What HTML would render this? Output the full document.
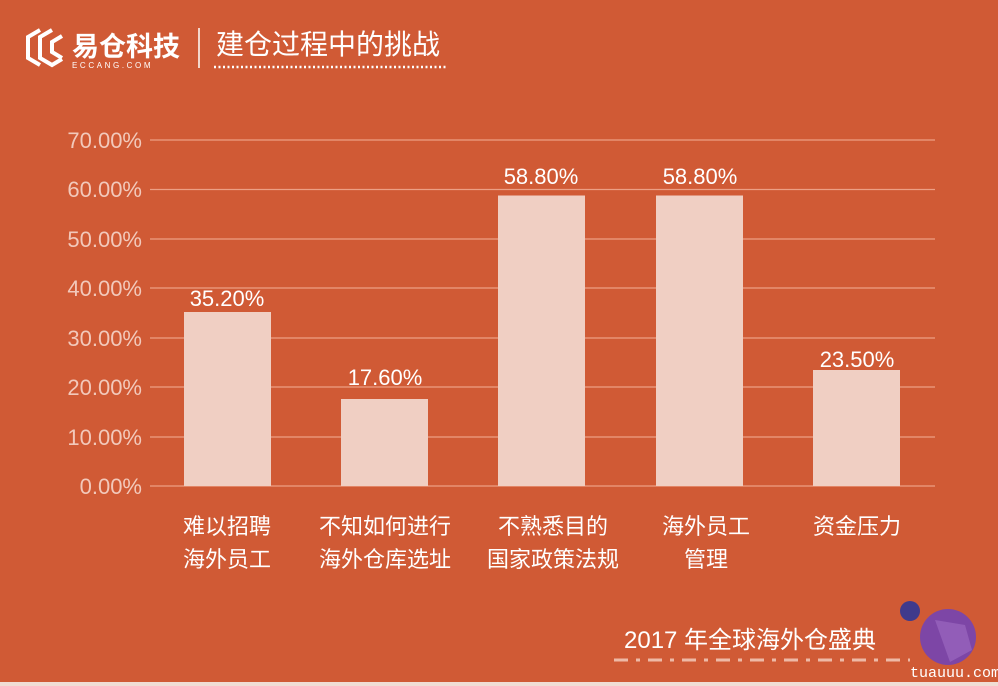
<!DOCTYPE html>
<html><head><meta charset="utf-8"><style>
body{margin:0;width:998px;height:686px;overflow:hidden;background:#D05A35;font-family:"Liberation Sans","Noto Sans CJK SC",sans-serif}
</style></head><body>
<svg width="998" height="686" xmlns="http://www.w3.org/2000/svg" style="position:absolute;left:0;top:0">
<rect width="998" height="686" fill="#D05A35"/>
<g fill="none" stroke="#fff" stroke-width="4">
<path d="M40 30 L28 37 L28 58 L40 65"/>
<path d="M52 30 L40 37 L40 58 L52 65 L62 59"/>
<path d="M62 36 L52 42 L52 52 L62 58"/>
</g>
<text x="72" y="56" fill="#fff" font-size="27" font-weight="bold">易仓科技</text>
<text x="72" y="68" fill="#fff" font-size="8" letter-spacing="2.6">ECCANG.COM</text>
<rect x="198" y="28" width="2" height="40" fill="#f3d6cb"/>
<text x="216" y="54" fill="#fff" font-size="28">建仓过程中的挑战</text>
<line x1="214" y1="67" x2="448" y2="67" stroke="#fff" stroke-width="2.5" stroke-dasharray="2 2.5"/>
<g stroke="#ec9f85" stroke-width="1.2">
<line x1="150" y1="140" x2="935" y2="140"/>
<line x1="150" y1="189.5" x2="935" y2="189.5"/>
<line x1="150" y1="239" x2="935" y2="239"/>
<line x1="150" y1="288" x2="935" y2="288"/>
<line x1="150" y1="338" x2="935" y2="338"/>
<line x1="150" y1="387" x2="935" y2="387"/>
<line x1="150" y1="437" x2="935" y2="437"/>
<line x1="150" y1="486" x2="935" y2="486"/>
</g>
<g fill="#f2c9bb" font-size="22" text-anchor="end">
<text x="142" y="148">70.00%</text>
<text x="142" y="197">60.00%</text>
<text x="142" y="247">50.00%</text>
<text x="142" y="296">40.00%</text>
<text x="142" y="346">30.00%</text>
<text x="142" y="395">20.00%</text>
<text x="142" y="445">10.00%</text>
<text x="142" y="494">0.00%</text>
</g>
<g fill="#F0CFC3">
<rect x="184" y="312" width="87" height="174"/>
<rect x="341" y="399" width="87" height="87"/>
<rect x="498" y="195.5" width="87" height="290.5"/>
<rect x="656" y="195.5" width="87" height="290.5"/>
<rect x="813" y="370" width="87" height="116"/>
</g>
<g fill="#fff" font-size="22" text-anchor="middle">
<text x="227" y="306">35.20%</text>
<text x="385" y="385">17.60%</text>
<text x="541" y="184">58.80%</text>
<text x="700" y="184">58.80%</text>
<text x="857" y="367">23.50%</text>
</g>
<g fill="#fff" font-size="22" text-anchor="middle">
<text x="227" y="534">难以招聘</text><text x="227" y="567">海外员工</text>
<text x="385" y="534">不知如何进行</text><text x="385" y="567">海外仓库选址</text>
<text x="553" y="534">不熟悉目的</text><text x="553" y="567">国家政策法规</text>
<text x="706" y="534">海外员工</text><text x="706" y="567">管理</text>
<text x="857" y="534">资金压力</text>
</g>
<text x="624" y="648" fill="#fff" font-size="24">2017 年全球海外仓盛典</text>
<line x1="614" y1="660" x2="910" y2="660" stroke="#eeb9a6" stroke-width="3" stroke-dasharray="14 8 4 8"/>
<circle cx="910" cy="611" r="10" fill="#3f3a8c"/>
<circle cx="948" cy="637" r="28" fill="#7d46a6"/>
<path d="M935 620 L965 625 L972 650 L950 662 Z" fill="#a06cc4" opacity="0.6"/>
<text x="910" y="677" fill="#fff" font-size="15" font-family="Liberation Mono,monospace">tuauuu.com</text>
<rect x="0" y="682" width="998" height="4" fill="#f0ddd5"/>
</svg>
</body></html>
